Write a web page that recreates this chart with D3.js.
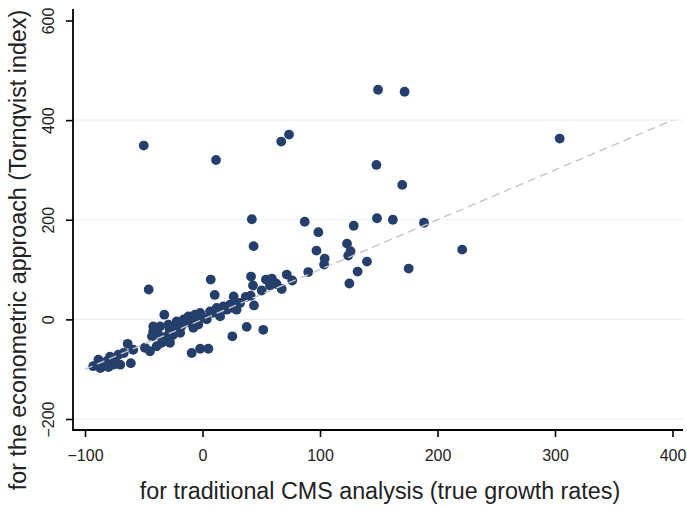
<!DOCTYPE html>
<html>
<head>
<meta charset="utf-8">
<script src="https://cdn.jsdelivr.net/npm/d3@7/dist/d3.min.js"></script>
<style>
  html, body { margin: 0; padding: 0; background: #ffffff; }
  svg { display: block; font-family: "Liberation Sans", Arial, sans-serif; }
</style>
</head>
<body>
<svg id="chart" width="687" height="507"></svg>
<script>
// ---- Data ----
const xValues = [
  149.4, 172, 304, -50, 11.5, 73.6, 67, 148, 170, 87,
  98.6, 128.7, 148.5, 162, 188.5, 123, 97, 104, 103.5, 126,
  124, 221, 90, 132, 140, 125, 175.5, 42, 43.5, 7,
  10.4, 41.3, 43, 50.4, 54, 59, 57.4, 63, 67.4, 71.7,
  76.4, 26.5, 36.8, 41, 43.8, 37.6, 51.7, 25.4, -45.8, -32.5,
  -41.9, -41.9, -9.2, -2, 5, -44.7, -49, -63.7, -61, -70,
  -78.7, -88.6, -93, -87, -80, -67, -74.5, 61.7,
  -28, -22, -16, -12, -6.4, -2, 6.4, 12, 17.7, 23.4,
  29, 32, -23, -17.7, -10.6, -5, 0.7, 9, 20.6, 26,
  -27.7, -25, -19, -7.8, -3.6, 3.6, 15, 29,
  -36, -29, -43, -37.6, -30.5, -34.7, -27.7, -39,
  -59, -71.6, -81.5, -76, -81.5
];
const yValues = [
  461, 457, 363, 349, 320, 371, 357, 310, 270, 196,
  175, 188, 203, 200, 194, 152, 138, 122, 110, 137,
  128, 140, 95, 96, 116, 72, 102, 201, 147, 80,
  49, 86, 68, 58, 80, 82, 68, 71, 61, 90,
  78, 46, 45, 47.6, 28, -15, -21, -34, 60, 9.4,
  -14, -24, -67.5, -59, -59, -64, -57, -49, -88, -91,
  -75, -81, -94, -97.6, -95.6, -67.5, -81, 73,
  -21, -4, 0, 6, 9.4, 13, 16, 23, 26, 29.5,
  29.5, 33, -17, -12.7, -7, 0, 3, 13, 19.5, 23,
  -37, -31, -27, -17, -10.6, 0, 6, 19.5,
  -14, -10.6, -34, -31, -34, -47, -47, -54,
  -61, -71, -84, -91, -94
];
const xTicks = [-100, 0, 100, 200, 300, 400];
const yTicks = [-200, 0, 200, 400, 600];
const gridTicks = [-200, 0, 200, 400];
const refLine = [-100, 400];
const xTitle = "for traditional CMS analysis (true growth rates)";
const yTitle = "for the econometric approach (Tornqvist index)";

// ---- Layout ----
const svg = d3.select("#chart");
const plotLeft = 73, plotRight = 683, plotTop = 9, plotBottom = 430;

const x = d3.scaleLinear().domain([-100, 400]).range([85, 672.5]);
const y = d3.scaleLinear().domain([-200, 600]).range([419, 20.5]);

const fmt = d => (d < 0 ? "\u2212" + Math.abs(d) : String(d));

// Grid lines
svg.append("g")
  .selectAll("line")
  .data(gridTicks)
  .join("line")
  .attr("x1", plotLeft).attr("x2", plotRight)
  .attr("y1", d => y(d)).attr("y2", d => y(d))
  .attr("stroke", "#eaf0f0")
  .attr("stroke-width", 1.2);

// Points
const pts = xValues.map((v, i) => ({ x: v, y: yValues[i] }));
svg.append("g")
  .selectAll("circle")
  .data(pts)
  .join("circle")
  .attr("cx", d => x(d.x))
  .attr("cy", d => y(d.y))
  .attr("r", 4.9)
  .attr("fill", "#243f6b");

// Reference 45-degree dashed line (drawn over the points)
svg.append("line")
  .attr("x1", x(refLine[0])).attr("y1", y(refLine[0]))
  .attr("x2", x(refLine[1])).attr("y2", y(refLine[1]))
  .attr("stroke", "#c4c4c4")
  .attr("stroke-width", 1.4)
  .attr("stroke-dasharray", "8,5");

// X axis
const xAxis = d3.axisBottom(x).tickValues(xTicks).tickFormat(fmt).tickSize(7).tickSizeOuter(0);
const gx = svg.append("g").attr("transform", `translate(0,${plotBottom})`).call(xAxis);
gx.select(".domain").remove();
gx.selectAll(".tick line").attr("stroke", "#000").attr("stroke-width", 1.6);
gx.selectAll(".tick text")
  .attr("font-size", 16).attr("fill", "#222")
  .attr("font-family", "Liberation Sans, Arial, sans-serif")
  .attr("dy", null).attr("y", 31);

svg.append("line")
  .attr("x1", plotLeft - 0.8).attr("x2", plotRight)
  .attr("y1", plotBottom).attr("y2", plotBottom)
  .attr("stroke", "#000").attr("stroke-width", 1.8);

// Y axis
const yAxis = d3.axisLeft(y).tickValues(yTicks).tickFormat(fmt).tickSize(7).tickSizeOuter(0);
const gy = svg.append("g").attr("transform", `translate(${plotLeft},0)`).call(yAxis);
gy.select(".domain").remove();
gy.selectAll(".tick line").attr("stroke", "#000").attr("stroke-width", 1.6);
gy.selectAll(".tick text")
  .attr("font-size", 16).attr("fill", "#222")
  .attr("font-family", "Liberation Sans, Arial, sans-serif")
  .attr("x", null).attr("dy", null)
  .attr("text-anchor", "middle")
  .attr("transform", "translate(-19,0) rotate(-90)");

svg.append("line")
  .attr("x1", plotLeft).attr("x2", plotLeft)
  .attr("y1", plotTop).attr("y2", plotBottom + 0.8)
  .attr("stroke", "#000").attr("stroke-width", 1.8);

// Axis titles
svg.append("text")
  .attr("x", 380).attr("y", 499)
  .attr("text-anchor", "middle")
  .attr("font-size", 23.3).attr("fill", "#222")
  .text(xTitle);

svg.append("text")
  .attr("transform", "translate(26,250) rotate(-90)")
  .attr("text-anchor", "middle")
  .attr("font-size", 23.3).attr("fill", "#222")
  .text(yTitle);
</script>
</body>
</html>
